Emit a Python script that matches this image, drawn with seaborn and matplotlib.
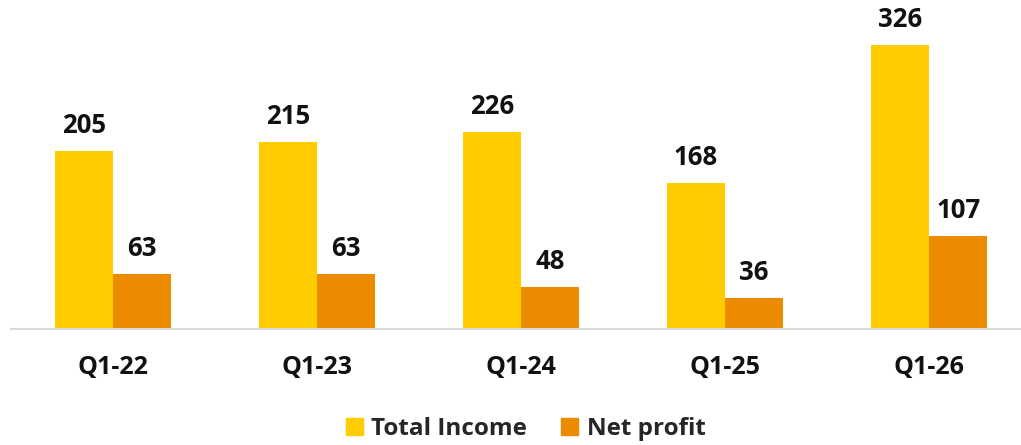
import matplotlib.pyplot as plt
import seaborn as sns
import pandas as pd

# chart values
quarters = ["Q1-22", "Q1-23", "Q1-24", "Q1-25", "Q1-26"]
total_income = [205, 215, 226, 168, 326]
net_profit = [63, 63, 48, 36, 107]
series = ["Total Income", "Net profit"]
colors = ["#FFCC00", "#ED8B00"]

df = pd.DataFrame({
    "quarter": quarters * 2,
    "value": total_income + net_profit,
    "series": [series[0]] * len(quarters) + [series[1]] * len(quarters),
})

sns.set_style("white")
plt.rcParams["font.family"] = ["Open Sans", "DejaVu Sans"]

fig = plt.figure(figsize=(10.21, 4.45), dpi=100)
ax = fig.add_axes([11 / 1021, 116 / 445, 1 - 11 / 1021, 329 / 445])

sns.barplot(data=df, x="quarter", y="value", hue="series", palette=colors,
            width=0.57, gap=0, linewidth=0, saturation=1, ax=ax, legend=False)

for cont in ax.containers:
    ax.bar_label(cont, padding=8.5, fontsize=18.5, fontweight="bold", color="#111111")

ax.set_ylim(0, 378)
ax.set_xlim(-0.5, 4.45)
ax.set_xlabel("")
ax.set_ylabel("")
ax.set_yticks([])
ax.tick_params(axis="x", length=0, pad=19)
for lbl in ax.get_xticklabels():
    lbl.set_fontsize(18)
    lbl.set_fontweight("bold")
    lbl.set_color("#111111")

sns.despine(ax=ax, left=True, top=True, right=True)
ax.spines["bottom"].set_color("#D9D9D9")
ax.spines["bottom"].set_linewidth(1.5)

handles = [plt.Rectangle((0, 0), 1, 1, color=c) for c in colors]
fig.legend(handles, series, loc="lower center", bbox_to_anchor=(0.515, -0.04),
           ncol=2, frameon=False, handlelength=0.7, handleheight=0.7,
           handletextpad=0.35, columnspacing=1.4,
           prop={"size": 17.5, "weight": "bold"})

fig.savefig("out.png", dpi=100)
